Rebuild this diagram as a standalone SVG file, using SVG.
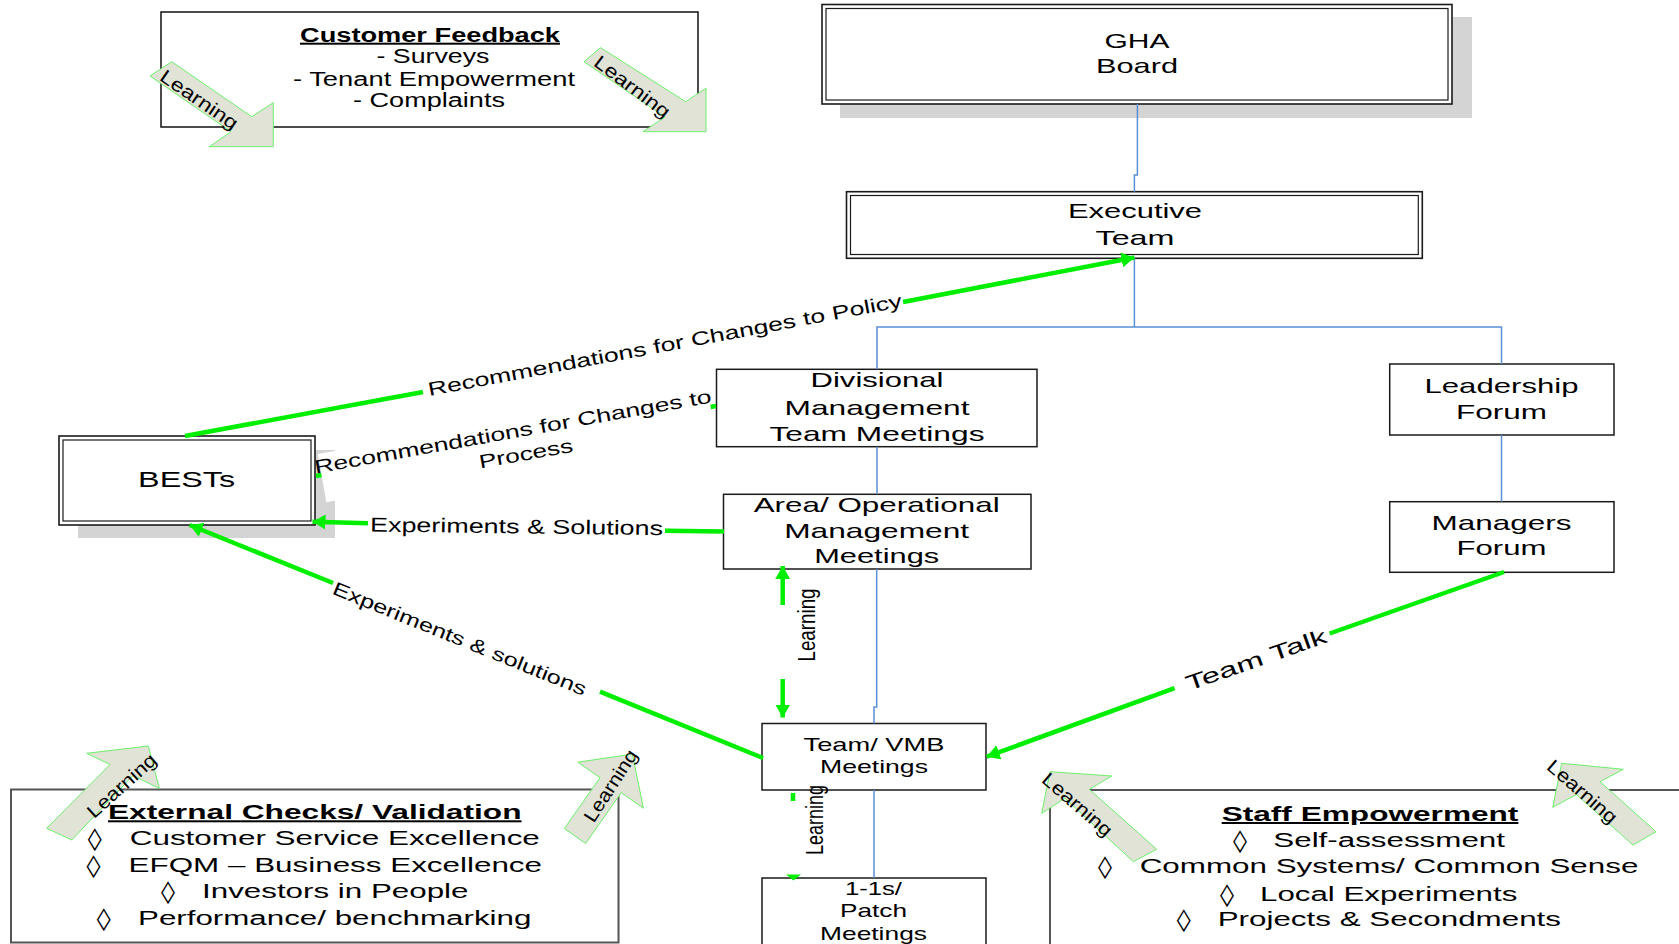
<svg xmlns="http://www.w3.org/2000/svg" width="1679" height="944" viewBox="0 0 1679 944">
<defs>
<style>
text{font-family:"Liberation Sans",Arial,Helvetica,sans-serif;fill:#000;}
.c{text-anchor:middle}
.b{font-weight:bold;text-decoration:underline}
.f19{font-size:19px}
.f20{font-size:20px}
.f21{font-size:21px}
.f22{font-size:22px}
.dm{font-family:"DejaVu Sans",sans-serif;font-size:22px}
.box{fill:#fff;stroke:#1a1a1a;stroke-width:1.5}
.big{fill:#fff;stroke:#555;stroke-width:2}
.dbl{fill:#fff;stroke:#1a1a1a;stroke-width:1.6}
.inr{fill:none;stroke:#1a1a1a;stroke-width:1.2}
.shadow{fill:#d4d4d4}
.blue{fill:none;stroke:#5b8fd6;stroke-width:1.5}
.grn{fill:none;stroke:#00ee00;stroke-width:4.5}
.larr{fill:#e0e3d5;stroke:#6cf06c;stroke-width:1}
</style>
<marker id="ah" viewBox="0 0 10 10" refX="10" refY="5" markerWidth="13" markerHeight="15" markerUnits="userSpaceOnUse" orient="auto" preserveAspectRatio="none">
<path d="M0,0 L10,5 L0,10 z" fill="#00ee00"/>
</marker>
</defs>
<rect width="1679" height="944" fill="#fff"/>

<g id="customer-feedback">
<rect x="161" y="12" width="537" height="115" fill="#fff" stroke="#111" stroke-width="1.5"/>
<polygon class="larr" points="171.7,61.7 251.7,116.7 273.3,102.7 273.3,146.7 209.3,146.7 231,131.7 150,76"/>
<text class="c f19" transform="translate(199,100) rotate(34.5)" y="6" textLength="90" lengthAdjust="spacingAndGlyphs">Learning</text>
<polygon class="larr" points="600.6,47.7 685.7,101.7 706,88.3 706,131.7 643,131.7 665,117 584,61.7"/>
<text class="c f19" transform="translate(632,87) rotate(37)" y="6" textLength="90" lengthAdjust="spacingAndGlyphs">Learning</text>
<text class="c f20 b" x="430" y="41.7" textLength="260" lengthAdjust="spacingAndGlyphs">Customer Feedback</text>
<text class="c f20" x="433" y="63.3" textLength="113" lengthAdjust="spacingAndGlyphs">- Surveys</text>
<text class="c f20" x="434" y="86" textLength="282" lengthAdjust="spacingAndGlyphs">- Tenant Empowerment</text>
<text class="c f20" x="429" y="107.3" textLength="152" lengthAdjust="spacingAndGlyphs">- Complaints</text>
</g>

<g id="gha-board">
<rect class="shadow" x="840" y="17" width="632" height="101"/>
<rect class="dbl" x="822" y="4.5" width="630" height="99.5"/>
<rect class="inr" x="826" y="8.5" width="622" height="91.5"/>
<text class="c f21" x="1137" y="47.7" textLength="65" lengthAdjust="spacingAndGlyphs">GHA</text>
<text class="c f21" x="1137" y="73.3" textLength="82" lengthAdjust="spacingAndGlyphs">Board</text>
</g>

<g id="executive-team">
<rect class="dbl" x="846.5" y="191.7" width="575.8" height="66.6"/>
<rect class="inr" x="850.5" y="195.5" width="567.8" height="59"/>
<text class="c f21" x="1135" y="218.3" textLength="134" lengthAdjust="spacingAndGlyphs">Executive</text>
<text class="c f21" x="1135" y="245" textLength="79" lengthAdjust="spacingAndGlyphs">Team</text>
</g>

<g id="divisional">
<rect class="box" x="716.5" y="369.3" width="320.5" height="77.4"/>
<text class="c f21" x="877" y="387.3" textLength="133" lengthAdjust="spacingAndGlyphs">Divisional</text>
<text class="c f21" x="877" y="415" textLength="185" lengthAdjust="spacingAndGlyphs">Management</text>
<text class="c f21" x="877" y="440.7" textLength="215" lengthAdjust="spacingAndGlyphs">Team Meetings</text>
</g>

<g id="leadership-forum">
<rect class="box" x="1389.7" y="364" width="224.3" height="71"/>
<text class="c f21" x="1501.5" y="393.3" textLength="154" lengthAdjust="spacingAndGlyphs">Leadership</text>
<text class="c f21" x="1501.5" y="419" textLength="91" lengthAdjust="spacingAndGlyphs">Forum</text>
</g>

<g id="managers-forum">
<rect class="box" x="1389.7" y="501.7" width="224.3" height="70.6"/>
<text class="c f21" x="1501.5" y="530" textLength="140" lengthAdjust="spacingAndGlyphs">Managers</text>
<text class="c f21" x="1501.5" y="555" textLength="90" lengthAdjust="spacingAndGlyphs">Forum</text>
</g>

<g id="area-operational">
<rect class="box" x="723.5" y="494.3" width="307.5" height="74.7"/>
<text class="c f21" x="876.7" y="511.7" textLength="246" lengthAdjust="spacingAndGlyphs">Area/ Operational</text>
<text class="c f21" x="876.7" y="538.3" textLength="185" lengthAdjust="spacingAndGlyphs">Management</text>
<text class="c f21" x="876.7" y="563.3" textLength="125" lengthAdjust="spacingAndGlyphs">Meetings</text>
</g>

<g id="team-vmb">
<rect class="box" x="762" y="723.5" width="224" height="66.5"/>
<text class="c f19" x="874" y="751" textLength="141" lengthAdjust="spacingAndGlyphs">Team/ VMB</text>
<text class="c f19" x="874" y="773.3" textLength="108" lengthAdjust="spacingAndGlyphs">Meetings</text>
</g>

<g id="one-to-ones">
<rect class="box" x="762" y="878" width="224" height="80"/>
<text class="c f19" x="873.5" y="895" textLength="57" lengthAdjust="spacingAndGlyphs">1-1s/</text>
<text class="c f19" x="873.5" y="916.7" textLength="67" lengthAdjust="spacingAndGlyphs">Patch</text>
<text class="c f19" x="873.5" y="940" textLength="107" lengthAdjust="spacingAndGlyphs">Meetings</text>
</g>

<g id="bests">
<rect class="shadow" x="78" y="450" width="257" height="88"/>
<rect class="dbl" x="59" y="436" width="256" height="89"/>
<rect class="inr" x="63" y="440" width="248" height="81"/>
<text class="c f22" x="186.6" y="487.3" textLength="97" lengthAdjust="spacingAndGlyphs">BESTs</text>
</g>

<g id="external-checks">
<rect class="big" x="11" y="789.5" width="607.5" height="153"/>
<polygon class="larr" points="46.7,828.3 110,764.5 86.7,753.3 148.3,746 159.3,788.3 133,775.5 71.7,840"/>
<text class="c f19" transform="translate(122,786) rotate(-42)" y="6" textLength="86" lengthAdjust="spacingAndGlyphs">Learning</text>
<polygon class="larr" points="564.4,828.5 600,777.7 577.8,762.2 632.4,754.1 643.4,808.2 621.2,792.7 585.6,843.5"/>
<text class="c f19" transform="translate(611,786) rotate(-57)" y="6" textLength="82" lengthAdjust="spacingAndGlyphs">Learning</text>
<text class="f20 b" x="108" y="819.3" textLength="413.5" lengthAdjust="spacingAndGlyphs">External Checks/ Validation</text>
<text class="dm" x="87.8" y="846" textLength="14" lengthAdjust="spacingAndGlyphs">◊</text>
<text class="f20" x="129.8" y="845" textLength="410" lengthAdjust="spacingAndGlyphs">Customer Service Excellence</text>
<text class="dm" x="86.5" y="872.7" textLength="14" lengthAdjust="spacingAndGlyphs">◊</text>
<text class="f20" x="128.6" y="871.7" textLength="413.4" lengthAdjust="spacingAndGlyphs">EFQM – Business Excellence</text>
<text class="dm" x="161" y="899.3" textLength="14" lengthAdjust="spacingAndGlyphs">◊</text>
<text class="f20" x="202" y="898.3" textLength="266.5" lengthAdjust="spacingAndGlyphs">Investors in People</text>
<text class="dm" x="96.7" y="926" textLength="14" lengthAdjust="spacingAndGlyphs">◊</text>
<text class="f20" x="138" y="925" textLength="393.4" lengthAdjust="spacingAndGlyphs">Performance/ benchmarking</text>
</g>

<g id="staff-empowerment">
<rect class="big" x="1050" y="790" width="640" height="170"/>
<polygon class="larr" points="1050,771.7 1111.7,776 1089.3,789.3 1156.7,849.3 1133.3,861.7 1065,798.3 1041.7,813.3"/>
<text class="c f19" transform="translate(1077,805) rotate(41)" y="6" textLength="86" lengthAdjust="spacingAndGlyphs">Learning</text>
<polygon class="larr" points="1561.7,763.3 1623.3,769.3 1600,781.7 1656,831.7 1633,845 1576.4,794.5 1552.7,807.3"/>
<text class="c f19" transform="translate(1582,792) rotate(41)" y="6" textLength="86" lengthAdjust="spacingAndGlyphs">Learning</text>
<text class="f20 b" x="1221.7" y="821" textLength="296.7" lengthAdjust="spacingAndGlyphs">Staff Empowerment</text>
<text class="dm" x="1233" y="847.7" textLength="14" lengthAdjust="spacingAndGlyphs">◊</text>
<text class="f20" x="1273.3" y="846.7" textLength="231.7" lengthAdjust="spacingAndGlyphs">Self-assessment</text>
<text class="dm" x="1098" y="874.3" textLength="14" lengthAdjust="spacingAndGlyphs">◊</text>
<text class="f20" x="1139.7" y="873.3" textLength="498.7" lengthAdjust="spacingAndGlyphs">Common Systems/ Common Sense</text>
<text class="dm" x="1220" y="901.7" textLength="14" lengthAdjust="spacingAndGlyphs">◊</text>
<text class="f20" x="1260" y="900.7" textLength="257.3" lengthAdjust="spacingAndGlyphs">Local Experiments</text>
<text class="dm" x="1176.7" y="927" textLength="14" lengthAdjust="spacingAndGlyphs">◊</text>
<text class="f20" x="1217.7" y="926" textLength="343.3" lengthAdjust="spacingAndGlyphs">Projects &amp; Secondments</text>
</g>

<g id="connectors">
<path class="blue" d="M1137.4,104 V175 H1134.4 V191.7"/>
<path class="blue" d="M1134.4,258.3 V327 M877,369.3 V327 H1501.5 V364"/>
<path class="blue" d="M877,446.7 V494.3"/>
<path class="blue" d="M876.7,569 V707 H874 V723.5"/>
<path class="blue" d="M874,790 V878"/>
<path class="blue" d="M1501.5,435 V501.7"/>

<path class="grn" d="M185,436 L423,392"/>
<path class="grn" d="M903,302 L1134.4,257.5" marker-end="url(#ah)"/>
<text class="c f19" transform="translate(665,345.5) rotate(-10.68)" y="6" textLength="482" lengthAdjust="spacingAndGlyphs">Recommendations for Changes to Policy</text>

<path class="grn" d="M316,476 L716,406"/>
<g transform="translate(514,438) rotate(-10.2)">
<rect x="-196" y="-19" width="395" height="49" fill="#fff"/>
<text class="c f19" x="0" y="0" textLength="403" lengthAdjust="spacingAndGlyphs">Recommendations for Changes to</text>
<text class="c f19" x="9" y="24" textLength="95" lengthAdjust="spacingAndGlyphs">Process</text>
</g>

<path class="grn" d="M724,531.5 L665,530.7"/>
<path class="grn" d="M368,523.3 L312.5,521.7" marker-end="url(#ah)"/>
<text class="c f20" transform="translate(516.5,533.3) rotate(0.7)" textLength="293" lengthAdjust="spacingAndGlyphs">Experiments &amp; Solutions</text>

<path class="grn" d="M333,583 L189.6,525" marker-end="url(#ah)"/>
<path class="grn" d="M600,691.7 L763,758"/>
<text class="c f19" transform="translate(461,635.5) rotate(22.1)" y="10" textLength="272" lengthAdjust="spacingAndGlyphs">Experiments &amp; solutions</text>

<path class="grn" d="M1504,572 L1329.6,633.5"/>
<path class="grn" d="M1174.6,688.2 L986.7,756.7" marker-end="url(#ah)"/>
<text class="c f21" transform="translate(1256,659.4) rotate(-19.4)" y="7.5" textLength="148" lengthAdjust="spacingAndGlyphs">Team Talk</text>

<path class="grn" d="M782.7,605 L782.7,566" marker-end="url(#ah)"/>
<path class="grn" d="M782.7,679 L782.7,717.5" marker-end="url(#ah)"/>
<text class="c f19" transform="translate(815,625) rotate(-90) scale(1,1.23)" textLength="73" lengthAdjust="spacingAndGlyphs">Learning</text>

<path class="grn" d="M793,793 L793,801"/>
<polygon points="786,874.5 801,874.5 793.5,880.5" fill="#00ee00"/>
<text class="c f19" transform="translate(823.4,820) rotate(-90) scale(1,1.23)" textLength="70" lengthAdjust="spacingAndGlyphs">Learning</text>
</g>
</svg>
